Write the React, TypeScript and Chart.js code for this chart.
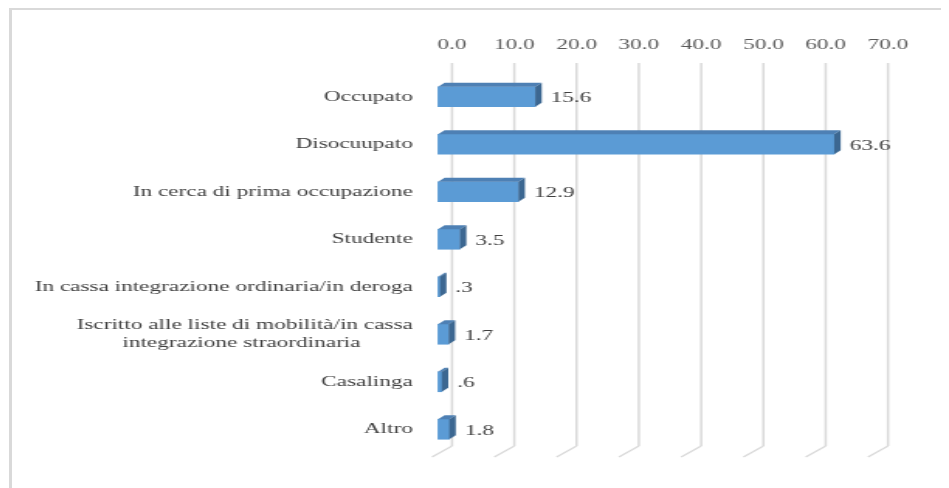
import React, { useEffect, useRef } from 'react';
import { Chart, registerables } from 'chart.js';

Chart.register(...registerables);

// ---- data ----
const categories: (string | string[])[] = [
  'Occupato',
  'Disocuupato',
  'In cerca di prima occupazione',
  'Studente',
  'In cassa integrazione ordinaria/in deroga',
  ['Iscritto alle liste di mobilità/in cassa', 'integrazione straordinaria\u00A0\u00A0\u00A0\u00A0\u00A0\u00A0\u00A0\u00A0\u00A0'],
  'Casalinga',
  'Altro',
];
const values = [15.6, 63.6, 12.9, 3.5, 0.3, 1.7, 0.6, 1.8];
const valueLabels = ['15.6', '63.6', '12.9', '3.5', '.3', '1.7', '.6', '1.8'];
const xTickLabels = ['0.0', '10.0', '20.0', '30.0', '40.0', '50.0', '60.0', '70.0'];

// ---- layout constants ----
const CW = 607;
const CH = 480;
const STRETCH = 941 / CW;
const FONT = '"Liberation Serif", "Times New Roman", serif';
const FRONT = '#5b9bd5';
const TOP = '#4e80b4';
const SIDE = '#3c6791';
const DX = 4.2;
const DY = -4;

const bars3d = {
  id: 'bars3d',
  beforeDatasetsDraw(chart: any) {
    const { ctx, chartArea } = chart;
    const xs = chart.scales.x;
    ctx.save();
    ctx.strokeStyle = '#d9d9d9';
    xs.ticks.forEach((t: any) => {
      const x = xs.getPixelForValue(t.value);
      const yTop = chartArea.top - 10;
      const yBot = chartArea.bottom - 7;
      ctx.lineWidth = 1.5;
      ctx.beginPath();
      ctx.moveTo(x, yTop);
      ctx.lineTo(x, yBot);
      ctx.stroke();
      ctx.lineWidth = 1.3;
      ctx.beginPath();
      ctx.moveTo(x, yBot);
      ctx.lineTo(x - 12.9, yBot + 11);
      ctx.stroke();
    });
    ctx.restore();
  },
  afterDatasetsDraw(chart: any) {
    const { ctx } = chart;
    const meta = chart.getDatasetMeta(0);
    ctx.save();
    meta.data.forEach((bar: any, i: number) => {
      const { x, y, base, height } = bar.getProps(['x', 'y', 'base', 'height'], true);
      const l = Math.min(base, x);
      const r = Math.max(base, x);
      const t = y - height / 2;
      const b = y + height / 2;
      // top face
      ctx.fillStyle = TOP;
      ctx.beginPath();
      ctx.moveTo(l, t);
      ctx.lineTo(l + DX, t + DY);
      ctx.lineTo(r + DX, t + DY);
      ctx.lineTo(r, t);
      ctx.closePath();
      ctx.fill();
      // side face
      ctx.fillStyle = SIDE;
      ctx.beginPath();
      ctx.moveTo(r, t);
      ctx.lineTo(r + DX, t + DY);
      ctx.lineTo(r + DX, b + DY);
      ctx.lineTo(r, b);
      ctx.closePath();
      ctx.fill();
      // value label
      ctx.fillStyle = '#404040';
      ctx.font = `15px ${FONT}`;
      ctx.textAlign = 'left';
      ctx.textBaseline = 'middle';
      ctx.fillText(valueLabels[i], r + DX + 5.8, y + 1.5);
    });
    ctx.restore();
  },
};

export default function App() {
  const ref = useRef<HTMLCanvasElement | null>(null);

  useEffect(() => {
    if (!ref.current) return;
    const chart = new Chart(ref.current, {
      type: 'bar',
      data: {
        labels: categories,
        datasets: [
          {
            data: values.map((v) => [0, v]) as any,
            xAxisID: 'x2',
            yAxisID: 'y',
            backgroundColor: FRONT,
            borderWidth: 0,
            barThickness: 20,
            clip: false as any,
          },
        ],
      },
      options: {
        indexAxis: 'y',
        animation: false,
        responsive: false,
        devicePixelRatio: 1,
        layout: { padding: { left: 0, right: 39.35, top: 0, bottom: 35 } },
        plugins: {
          legend: { display: false },
          tooltip: { enabled: false },
          title: { display: false },
        },
        scales: {
          x: {
            type: 'linear',
            position: 'top',
            min: 0,
            max: 70,
            grid: { display: false, drawTicks: false },
            border: { display: false },
            ticks: {
              stepSize: 10,
              padding: 19,
              color: '#595959',
              font: { family: FONT, size: 15 },
              callback: (_v: any, i: number) => xTickLabels[i],
            },
            afterFit: (s: any) => {
              s.height = 65;
            },
          },
          x2: {
            type: 'linear',
            position: 'top',
            display: false,
            min: 2.24,
            max: 72.24,
          },
          y: {
            type: 'category',
            position: 'left',
            grid: { display: false, drawTicks: false },
            border: { display: false },
            ticks: {
              padding: 25.2,
              color: '#404040',
              font: { family: FONT, size: 15 },
            },
            afterFit: (s: any) => {
              s.width = 286.4;
            },
          },
        },
      },
      plugins: [bars3d],
    });
    return () => chart.destroy();
  }, []);

  return (
    <div style={{ position: 'relative', width: 941, height: 480, overflow: 'hidden' }}>
      <div
        style={{
          position: 'absolute',
          left: 1,
          top: 0,
          width: 936,
          height: 490,
          borderLeft: '3px solid #d9d9d9',
          borderTop: '2px solid #d9d9d9',
          borderRight: '2px solid #d9d9d9',
          boxSizing: 'content-box',
        }}
      />
      <div
        style={{
          position: 'absolute',
          left: 0,
          top: 0,
          width: CW,
          height: CH,
          transform: `scaleX(${STRETCH})`,
          transformOrigin: '0 0',
        }}
      >
        <canvas ref={ref} width={CW} height={CH} />
      </div>
    </div>
  );
}
